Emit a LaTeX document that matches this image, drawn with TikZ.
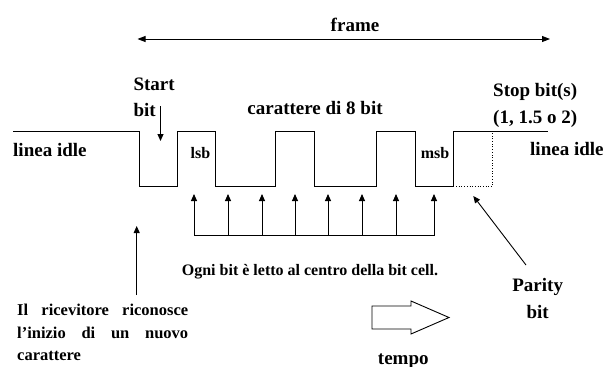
\documentclass[tikz,border=0pt]{standalone}
\usepackage{fontspec}
\setmainfont{Liberation Serif}
\usetikzlibrary{arrows.meta}
\begin{document}
\begin{tikzpicture}[x=1pt,y=-1pt,
  wire/.style={line width=0.9pt, line join=miter},
  dotwire/.style={line width=0.7pt, dotted},
  tipped/.style={line width=0.9pt, -{Triangle[width=6pt,length=7pt]}},
  twotips/.style={line width=0.9pt, {Triangle[width=6pt,length=8pt]}-{Triangle[width=6pt,length=8pt]}},
  biglbl/.style={font=\bfseries\fontsize{19}{26}\selectfont, inner sep=0pt},
  midlbl/.style={font=\bfseries\fontsize{16}{20}\selectfont, inner sep=0pt},
  smalllbl/.style={font=\bfseries\fontsize{16}{20}\selectfont, inner sep=0pt},
  paralbl/.style={font=\bfseries\fontsize{16.5}{22.5}\selectfont, inner sep=0pt}]
\useasboundingbox (0,0) rectangle (614,367);

% frame extent
\node[biglbl, anchor=base] (frame) at (355,31.5) {frame};
\coordinate (frameL) at (137.5,39);
\coordinate (frameR) at (550,39);
\draw[twotips] (frameL) -- (frameR);

% serial line waveform
\draw[wire] (13,131.5) -- (139,131.5) -- (139,186) -- (177,186) -- (177,131.5)
  -- (215.7,131.5) -- (215.7,186) -- (275.7,186) -- (275.7,131.5)
  -- (314,131.5) -- (314,186) -- (376.7,186) -- (376.7,131.5)
  -- (415,131.5) -- (415,186) -- (453.3,186) -- (453.3,131.5) -- (548,131.5);
\draw[dotwire] (453.3,186) -- (492.7,186) -- (492.7,131.5);

% labels on the line
\node[biglbl, anchor=base west] (idleL) at (13,156) {linea idle};
\node[biglbl, anchor=base west] (idleR) at (530,155.5) {linea idle};
\node[midlbl, anchor=base] (lsb) at (200.5,158) {lsb};
\node[midlbl, anchor=base] (msb) at (435,158) {msb};
\node[biglbl, anchor=base west] (start1) at (133.3,90.7) {Start};
\node[biglbl, anchor=base west] (start2) at (133.3,116.7) {bit};
\node[biglbl, anchor=base] (char) at (315,114) {carattere di 8 bit};
\node[biglbl, anchor=base west] (stop1) at (493,96) {Stop bit(s)};
\node[biglbl, anchor=base west] (stop2) at (493,123.3) {(1, 1.5 o 2)};

% start bit pointer
\coordinate (startA) at (160.5,106);
\coordinate (startB) at (160.5,141);
\draw[tipped] (startA) -- (startB);

% sampling instants at the centre of each bit cell
\coordinate (busL) at (194,235.5);
\coordinate (busR) at (434,235.5);
\draw[wire] (busL) -- (busR);
\foreach \i/\x in {1/194,2/228,3/262,4/295,5/328,6/362,7/396,8/434} {
  \coordinate (s\i a) at (\x,235.5);
  \coordinate (s\i b) at (\x,194);
  \draw[tipped] (s\i a) -- (s\i b);
}
\node[smalllbl, anchor=base west] (sample) at (181.7,275.5) {Ogni bit è letto al centro della bit cell.};

% receiver detects the start edge
\coordinate (rxA) at (136.7,295);
\coordinate (rxB) at (136.7,226);
\draw[tipped] (rxA) -- (rxB);
\node[paralbl, anchor=base west, text width=171pt, align=justify] (rx) at (17,315.5)
  {\hyphenpenalty=10000 Il ricevitore riconosce\linebreak l’inizio di un nuovo\linebreak carattere};

% parity bit pointer
\node[biglbl, anchor=base] (par1) at (537.7,291) {Parity};
\node[biglbl, anchor=base] (par2) at (537.7,318) {bit};
\coordinate (parA) at (526,265);
\coordinate (parB) at (473.3,196);
\draw[tipped] (parA) -- (parB);

% time direction
\draw[wire] (372,306) -- (411,306) -- (411,301) -- (449,317.5) -- (411,334)
  -- (411,329) -- (372,329) -- cycle;
\node[biglbl, anchor=base] (tempo) at (403.3,364) {tempo};
\end{tikzpicture}
\end{document}
